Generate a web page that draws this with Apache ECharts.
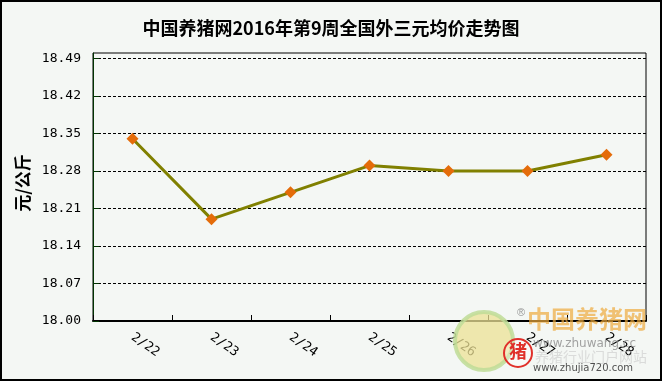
<!DOCTYPE html>
<html><head><meta charset="utf-8">
<script src="https://cdn.jsdelivr.net/npm/echarts@6/dist/echarts.min.js"></script>
<style>html,body{margin:0;padding:0;background:#f4f7f4}#c{width:662px;height:381px}</style>
</head><body><div id="c"></div>
<script>
const titleText = '中国养猪网2016年第9周全国外三元均价走势图';
const yName = '元/公斤';
const categories = ['2/22','2/23','2/24','2/25','2/26','2/27','2/28'];
const prices = [18.34, 18.19, 18.24, 18.29, 18.28, 18.28, 18.31];
const yMin = 18.00, yMax = 18.50, yStep = 0.07;

const chart = echarts.init(document.getElementById('c'));
chart.setOption({
  animation: false,
  backgroundColor: '#f4f7f4',
  title: {text: titleText, left: 'center', top: 14,
    textStyle: {fontFamily: 'Noto Sans CJK SC', fontSize: 18, fontWeight: 'bold', color: '#000'}},
  grid: {left: 93, right: 16, top: 53, bottom: 60, show: true, borderColor: '#000', borderWidth: 1, backgroundColor: 'transparent'},
  xAxis: {type: 'category', data: categories, boundaryGap: true,
     axisLine: {show: true, onZero: false, lineStyle: {color: '#000', width: 2}},
     axisTick: {show: true, inside: true, length: 6, lineStyle: {color: '#000'}},
     axisLabel: {rotate: -35, margin: 15, interval: 0, fontFamily: 'DejaVu Sans Mono', fontSize: 13, color: '#000'}},
  yAxis: {type: 'value', min: yMin, max: yMax, interval: yStep,
     name: yName, nameLocation: 'middle', nameGap: 58, nameRotate: 90,
     nameTextStyle: {fontFamily: 'Noto Sans CJK SC', fontSize: 17, fontWeight: 'bold', color: '#000', padding: [0, 0, 0, 8]},
     axisLine: {show: true, lineStyle: {color: '#003300', width: 1}},
     axisTick: {show: true, inside: true, length: 6, lineStyle: {color: '#003300'}},
     axisLabel: {margin: 12, fontFamily: 'DejaVu Sans Mono', fontSize: 13, color: '#000',
       showMaxLabel: false, formatter: v => v.toFixed(2)},
     splitLine: {show: true, showMinLine: false, showMaxLine: false, lineStyle: {color: '#000', type: [3, 2], width: 1}}},
  series: [{
    type: 'line', data: prices,
    lineStyle: {color: '#808000', width: 3},
    symbol: 'diamond', symbolSize: 12,
    itemStyle: {color: '#e46c0a', borderWidth: 0},
    z: 5
  }],
  graphic: [
    {type: 'circle', shape: {cx: 484, cy: 341, r: 29}, style: {fill: 'rgba(236,226,150,0.75)', stroke: 'rgba(190,220,150,0.85)', lineWidth: 4}, z: 1},
    {type: 'text', left: 517, top: 307, style: {text: '®', fontSize: 11, fill: 'rgba(140,140,140,0.9)'}, z: 1},
    {type: 'text', left: 527, top: 307, style: {text: '中国养猪网', fontFamily: 'Noto Sans CJK SC', fontSize: 24, fontWeight: 'bold', fill: 'rgba(238,170,60,0.7)'}, z: 1},
    {type: 'text', left: 533, top: 338, style: {text: 'www.zhuwang.cc', fontFamily: 'DejaVu Sans', fontSize: 12, fill: 'rgba(140,140,140,0.8)'}, z: 1},
    {type: 'text', left: 535, top: 350, style: {text: '养猪行业门户网站', fontFamily: 'Noto Sans CJK SC', fontSize: 14, fill: 'rgba(200,200,200,0.6)'}, z: 1},
    {type: 'text', left: 533, top: 363, style: {text: 'www.zhujia720.com', fontFamily: 'DejaVu Sans', fontSize: 10, fill: 'rgba(50,50,50,0.85)'}, z: 1},
    {type: 'circle', shape: {cx: 518, cy: 353, r: 14}, style: {fill: 'rgba(255,255,255,0.25)', stroke: '#e0302a', lineWidth: 2}, z: 1},
    {type: 'text', left: 509, top: 342, style: {text: '猪', fontFamily: 'Noto Sans CJK SC', fontSize: 18, fontWeight: 'bold', fill: '#e0302a'}, z: 1},
    {type: 'rect', shape: {x: 1, y: 1, width: 660, height: 379}, style: {fill: 'none', stroke: '#000', lineWidth: 2}, z: 10}
  ]
});
</script></body></html>
